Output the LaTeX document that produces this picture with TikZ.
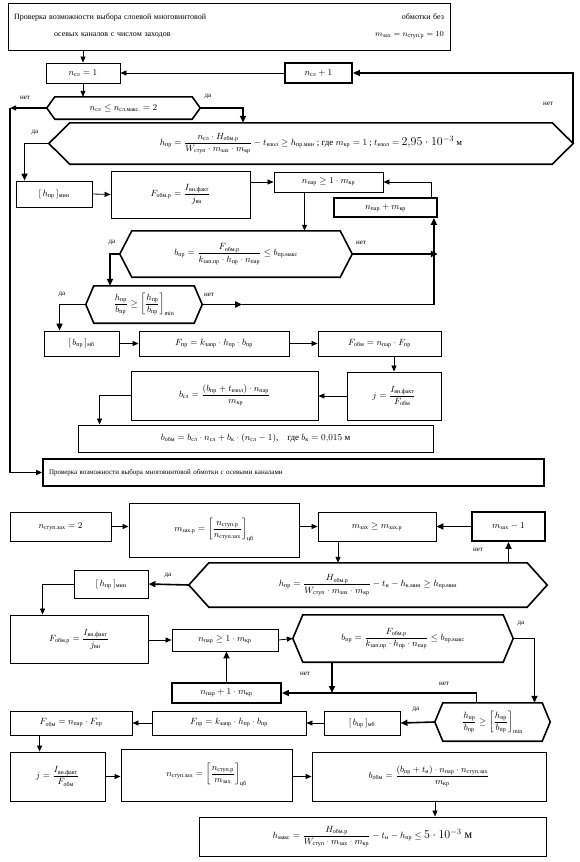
\documentclass[tikz,border=0pt]{standalone}
\usepackage{amsmath,amssymb}
\usepackage{fontspec}
\setmainfont{Liberation Serif}
\usetikzlibrary{arrows.meta,positioning,calc}
\newcommand{\ix}[1]{_{\text{#1}}}

\begin{document}
\begin{tikzpicture}[x=1pt,y=-1pt,
    blk/.style={draw, line width=0.9pt, rectangle, inner sep=2pt, font=\small},
    tbk/.style={blk, line width=1.8pt},
    hx/.style={rectangle, inner sep=2pt, font=\small},
    arr/.style={-{Triangle[length=6pt,width=5pt]}, line width=0.8pt},
    tarr/.style={-{Triangle[length=7pt,width=6pt]}, line width=1.6pt},
    lab/.style={font=\scriptsize, inner sep=1pt}]
  \useasboundingbox (0,0) rectangle (580,862);
  % --- slоевая обмотка без осевых каналов
  \node[blk, minimum width=442, minimum height=47, text width=430, font=\footnotesize] (tp) at (229,26.5)
    {Проверка возможности выбора слоевой многовинтовой\hfill обмотки без\hspace*{40pt}\\[8pt]
     \hspace*{40pt}осевых каналов с числом заходов\hfill $m\ix{зах} = n\ix{ступ.р} = 10$\hspace*{48pt}};
  \node[blk, minimum width=74, minimum height=20] (ns1) at (83,73) {$n\ix{сл} = 1$};
  \node[tbk, minimum width=67, minimum height=20] (nsp) at (318.5,73) {$n\ix{сл} + 1$};
  \node[hx, minimum width=153, minimum height=22] (d1) at (123.5,108) {$n\ix{сл} \le n\ix{сл.макс.} = 2$};
  \node[hx, minimum width=524, minimum height=41] (hh1) at (311,143.5)
    {$h\ix{пр} = \dfrac{n\ix{сл}\cdot H\ix{обм.р}}{W\ix{ступ}\cdot m\ix{зах}\cdot m\ix{кр}} - t\ix{изол} \ge h\ix{пр.мин}$\ ; где\ $m\ix{кр} = 1$\ ; $t\ix{изол} = $ {\large $2{,}95\cdot10^{-3}$} м};
  \node[blk, minimum width=76, minimum height=26] (hmin1) at (54,194) {$[\,h\ix{пр}\,]\ix{мин}$};
  \node[blk, minimum width=139, minimum height=47] (F1) at (180.5,194.5) {$F\ix{обм.р} = \dfrac{I\ix{вн.факт}}{j\ix{вн}}$};
  \node[blk, minimum width=109, minimum height=20] (np1) at (328.5,182) {$n\ix{пар} \ge 1\cdot m\ix{кр}$};
  \node[tbk, minimum width=103, minimum height=19] (npm1) at (385.5,207.5) {$n\ix{пар} + m\ix{кр}$};
  \node[hx, minimum width=232, minimum height=46] (b1) at (236,254)
    {$b\ix{пр} = \dfrac{F\ix{обм.р}}{k\ix{зап.пр}\cdot h\ix{пр}\cdot n\ix{пар}} \le b\ix{пр.макс}$};
  \node[hx, minimum width=116, minimum height=37] (hb1) at (144,304.5)
    {$\dfrac{h\ix{пр}}{b\ix{пр}} \ge \left[\dfrac{h\ix{пр}}{b\ix{пр}}\right]\ix{min}$};
  \node[blk, minimum width=75, minimum height=25] (bmin1) at (81.5,343.5) {$[\,b\ix{пр}\,]\ix{мб}$};
  \node[blk, minimum width=150, minimum height=25] (Fpr1) at (214,343.5) {$F\ix{пр} = k\ix{запр}\cdot h\ix{пр}\cdot b\ix{пр}$};
  \node[blk, minimum width=123, minimum height=25] (Fob1) at (379.5,343.5) {$F\ix{обм} = n\ix{пар}\cdot F\ix{пр}$};
  \node[blk, minimum width=94, minimum height=48] (j1) at (394,396) {$j = \dfrac{I\ix{вн.факт}}{F\ix{обм}}$};
  \node[blk, minimum width=187, minimum height=49] (bsl) at (224.5,395.5)
    {$b\ix{сл} = \dfrac{(b\ix{пр} + t\ix{изол})\cdot n\ix{пар}}{m\ix{кр}}$};
  \node[blk, minimum width=355, minimum height=27] (bob1) at (255.5,438.5)
    {$b\ix{обм} = b\ix{сл}\cdot n\ix{сл} + b\ix{к}\cdot(n\ix{сл} - 1)$,\quad где\ $b\ix{к} = 0{,}015$ м};
  \node[tbk, minimum width=501, minimum height=27, text width=489, font=\scriptsize] (chk) at (293.5,472.5)
    {Проверка возможности выбора многовинтовой обмотки с осевыми каналами};
  % --- обмотка с осевыми каналами
  \node[blk, minimum width=101, minimum height=29] (nz) at (60.5,526.5) {$n\ix{ступ.зах} = 2$};
  \node[blk, minimum width=170, minimum height=54] (mzr) at (214,530)
    {$m\ix{зах.р} = \left[\dfrac{n\ix{ступ.р}}{n\ix{ступ.зах}}\right]\ix{цб}$};
  \node[blk, minimum width=118, minimum height=29] (mz) at (377,526.5) {$m\ix{зах} \ge m\ix{зах.р}$};
  \node[tbk, minimum width=73, minimum height=29] (mzm) at (508.5,526.5) {$m\ix{зах} - 1$};
  \node[hx, minimum width=358, minimum height=44] (hh2) at (368,585)
    {$h\ix{пр} = \dfrac{H\ix{обм.р}}{W\ix{ступ}\cdot m\ix{зах}\cdot m\ix{кр}} - t\ix{и} - h\ix{к.мин} \ge h\ix{пр.мин}$};
  \node[blk, minimum width=74, minimum height=28] (hmin2) at (111,584) {$[\,h\ix{пр}\,]\ix{мин}$};
  \node[blk, minimum width=138, minimum height=48] (F2) at (79,639) {$F\ix{обм.р} = \dfrac{I\ix{вн.факт}}{j\ix{вн}}$};
  \node[blk, minimum width=106, minimum height=22] (np2) at (225,640) {$n\ix{пар} \ge 1\cdot m\ix{кр}$};
  \node[hx, minimum width=220, minimum height=47] (b2) at (403,638.5)
    {$b\ix{пр} = \dfrac{F\ix{обм.р}}{k\ix{зап.пр}\cdot h\ix{пр}\cdot n\ix{пар}} \le b\ix{пр.макс}$};
  \node[tbk, minimum width=109, minimum height=20] (npm2) at (226.5,693) {$n\ix{пар} + 1\cdot m\ix{кр}$};
  \node[hx, minimum width=115, minimum height=38] (hb2) at (492.5,722)
    {$\dfrac{h\ix{пр}}{b\ix{пр}} \ge \left[\dfrac{h\ix{пр}}{b\ix{пр}}\right]\ix{min}$};
  \node[blk, minimum width=76, minimum height=24] (bmin2) at (362,723) {$[\,b\ix{пр}\,]\ix{мб}$};
  \node[blk, minimum width=154, minimum height=24] (Fpr2) at (229,723) {$F\ix{пр} = k\ix{запр}\cdot h\ix{пр}\cdot b\ix{пр}$};
  \node[blk, minimum width=122, minimum height=24] (Fob2) at (71,723) {$F\ix{обм} = n\ix{пар}\cdot F\ix{пр}$};
  \node[blk, minimum width=95, minimum height=49] (j2) at (57.5,776.5) {$j = \dfrac{I\ix{вн.факт}}{F\ix{обм}}$};
  \node[blk, minimum width=171, minimum height=52] (nz2) at (206.5,775)
    {$n\ix{ступ.зах} = \left[\dfrac{n\ix{ступ.р}}{m\ix{зах}}\right]\ix{цб}$};
  \node[blk, minimum width=234, minimum height=49] (bob2) at (429,776.5)
    {$b\ix{обм} = \dfrac{(b\ix{пр} + t\ix{и})\cdot n\ix{пар}\cdot n\ix{ступ.зах}}{m\ix{кр}}$};
  \node[blk, minimum width=347, minimum height=39] (hmax) at (372.5,836.5)
    {$h\ix{макс} = \dfrac{H\ix{обм.р}}{W\ix{ступ}\cdot m\ix{зах}\cdot m\ix{кр}} - t\ix{и} - h\ix{пр} \le$ {\large $5\cdot10^{-3}$ м}};
  % hexagon outlines
  \foreach \h/\s in {d1/8, hh1/21, b1/12, hb1/8, hh2/20, b2/10, hb2/8}
    \draw[line width=1.6pt] (\h.west) -- ([xshift=\s]\h.north west) -- ([xshift=-\s]\h.north east)
      -- (\h.east) -- ([xshift=-\s]\h.south east) -- ([xshift=\s]\h.south west) -- cycle;
  % connectors, upper part
  \coordinate (lft) at (10,108);
  \draw[arr] (tp.south -| ns1.north) -- (ns1.north);
  \draw[arr] (nsp.west) -- (ns1.east);
  \draw[tarr] (hh1.east) |- (nsp.east);
  \draw[arr] (ns1.south) -- (ns1.south |- d1.north);
  \draw[arr, line width=1.3pt] (d1.west) -- (lft);
  \draw[arr, line width=1.3pt] (lft) |- (chk.west);
  \draw[tarr] (d1.east) -| ([xshift=-68]hh1.north);
  \draw[tarr] (hh1.west) -| ([xshift=9]hmin1.north west);
  \draw[arr] (hmin1.east) -- (F1.west);
  \draw[arr] (F1.east |- np1.west) -- (np1.west);
  \draw[arr] ([xshift=-24]np1.south) coordinate (t1) -- (t1 |- b1.north);
  \draw[arr] ([xshift=-7]npm1.north east) |- (np1.east);
  \draw[tarr] (b1.east) -- (b1.east -| npm1.south east) coordinate (t2);
  \draw[tarr] ([xshift=-4]npm1.south east |- hb1.east) -- ([xshift=-4]npm1.south east);
  \draw[tarr] (hb1.east) -- ([xshift=40]hb1.east);
  \draw[line width=1.6pt] ([xshift=40]hb1.east) -- ([xshift=-4]npm1.south east |- hb1.east);
  \draw[tarr] (b1.west) -| ([xshift=-34]hb1.north);
  \draw[tarr] (hb1.west) -| ([xshift=16]bmin1.north west);
  \draw[arr] (bmin1.east) -- (Fpr1.west);
  \draw[arr] (Fpr1.east) -- (Fob1.west);
  \draw[arr] (Fob1.south -| j1.north) -- (j1.north);
  \draw[arr] (j1.west) -- (j1.west -| bsl.east);
  \draw[arr] (bsl.west) -| ([xshift=22]bob1.north west);
  % connectors, lower part
  \draw[arr] (nz.east) -- (nz.east -| mzr.west);
  \draw[arr] (mzr.east |- mz.west) -- (mz.west);
  \draw[tarr] (mzm.west) -- (mz.east);
  \draw[arr] ([xshift=-39]mz.south) coordinate (t3) -- (t3 |- hh2.north);
  \draw[tarr] (hh2.north -| mzm.south) -- (mzm.south);
  \draw[tarr] (hh2.west) -- (hmin2.east);
  \draw[arr] (hmin2.west) -| ([xshift=33]F2.north west);
  \draw[arr] (F2.east |- np2.west) -- (np2.west);
  \draw[arr] (np2.east) -- (b2.west);
  \draw[tarr] (b2.east) -| ([xshift=42]hb2.north);
  \draw[tarr] ([xshift=-71]b2.south) coordinate (t4) -- (t4 |- npm2.east);
  \draw[tarr] ([xshift=-16]hb2.north) |- (npm2.east);
  \draw[tarr] (npm2.north) -- (npm2.north |- np2.south);
  \draw[tarr] (hb2.west) -- (bmin2.east);
  \draw[arr] (bmin2.west) -- (Fpr2.east);
  \draw[arr] (Fpr2.west) -- (Fob2.east);
  \draw[arr] ([xshift=30]Fob2.south west) coordinate (t5) -- (t5 |- j2.north);
  \draw[arr] (j2.east) -- (j2.east -| nz2.west);
  \draw[arr] (nz2.east |- bob2.west) -- (bob2.west);
  \draw[arr] ([xshift=6]bob2.south) coordinate (t6) -- (t6 |- hmax.north);
  % yes / no labels
  \node[lab] (l1) at (25,98) {нет};
  \node[lab] (l2) at (208,97) {да};
  \node[lab] (l3) at (35,133) {да};
  \node[lab] (l4) at (548,104) {нет};
  \node[lab] (l5) at (112,243) {да};
  \node[lab] (l6) at (361,243) {нет};
  \node[lab] (l7) at (62,295) {да};
  \node[lab] (l8) at (209,295) {нет};
  \node[lab] (l9) at (478,550) {нет};
  \node[lab] (l10) at (168,576) {да};
  \node[lab] (l11) at (521,624) {да};
  \node[lab] (l12) at (305,674) {нет};
  \node[lab] (l13) at (444,684) {нет};
  \node[lab] (l14) at (416,710) {да};
\end{tikzpicture}
\end{document}
